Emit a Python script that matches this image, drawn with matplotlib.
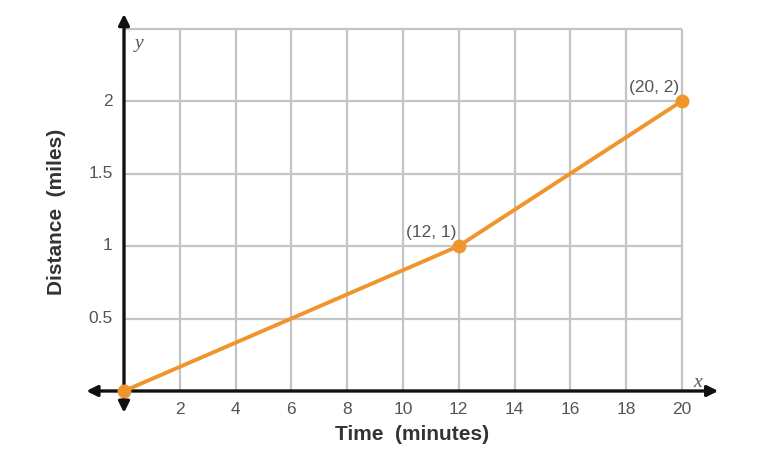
import matplotlib
matplotlib.use("Agg")
import matplotlib.pyplot as plt

# data
time_min = [0, 12, 20]
distance_mi = [0, 1, 2]
point_labels = ["", "(12, 1)", "(20, 2)"]
x_ticks = [2, 4, 6, 8, 10, 12, 14, 16, 18, 20]
y_ticks = [0.5, 1, 1.5, 2]
y_tick_labels = ["0.5", "1", "1.5", "2"]
x_grid = [2, 4, 6, 8, 10, 12, 14, 16, 18, 20]
y_grid = [0.5, 1, 1.5, 2, 2.5]

plt.rcParams['font.family'] = ['Liberation Sans', 'DejaVu Sans']

fig = plt.figure(figsize=(7.79, 4.63), dpi=100)
W, H = 779, 463
x0px, xscale = 124, 27.9
y0px, yscale = 391, 145
xlim = (-1.5, 21.5)
ylim = (-0.2, 2.65)
left = (x0px + xlim[0] * xscale) / W
width = (xlim[1] - xlim[0]) * xscale / W
bottom_px = y0px - ylim[0] * yscale
bottom = (H - bottom_px) / H
height = (ylim[1] - ylim[0]) * yscale / H
ax = fig.add_axes([left, bottom, width, height])
ax.set_xlim(*xlim)
ax.set_ylim(*ylim)
for s in ax.spines.values():
    s.set_visible(False)
ax.set_xticks([])
ax.set_yticks([])

grid_c = '#c4c4c4'
ax.vlines(x_grid, 0, 2.5, color=grid_c, lw=1.6, zorder=1)
ax.hlines(y_grid, 0, 20, color=grid_c, lw=1.6, zorder=1)

# axes with arrows
ax.annotate('', xy=(21.3, 0), xytext=(-1.35, 0),
            arrowprops=dict(arrowstyle='<|-|>', color='#111111', lw=2.4,
                            mutation_scale=16, shrinkA=0, shrinkB=0), zorder=3)
ax.annotate('', xy=(0, 2.6), xytext=(0, -0.15),
            arrowprops=dict(arrowstyle='<|-|>', color='#111111', lw=2.4,
                            mutation_scale=16, shrinkA=0, shrinkB=0), zorder=3)

orange = '#f0952c'
ax.plot(time_min, distance_mi, color=orange, lw=2.8, marker='o', ms=9,
        zorder=5, solid_capstyle='round')

lab_c = '#555555'
tfs = 12.5
for x in x_ticks:
    ax.text(x, -0.125, str(x), ha='center', va='center', fontsize=tfs, color=lab_c)
for y, t in zip(y_ticks, y_tick_labels):
    ax.text(-0.4, y, t, ha='right', va='center', fontsize=tfs, color=lab_c)

for x, y, t in zip(time_min, distance_mi, point_labels):
    if t:
        ax.text(x - 1.0, y + 0.04, t, ha='center', va='bottom', fontsize=tfs, color=lab_c)

ax.text(0.55, 2.4, 'y', fontsize=14, color=lab_c, ha='center', va='center',
        family='Liberation Serif', style='italic')
ax.text(20.55, 0.06, 'x', fontsize=14, color=lab_c, ha='center', va='center',
        family='Liberation Serif', style='italic')

fig.text(412 / W, 1 - 434 / H, 'Time  (minutes)', ha='center', va='center',
         fontsize=15, fontweight='bold', color='#333333')
fig.text(57 / W, 1 - 212 / H, 'Distance  (miles)', ha='center', va='center',
         fontsize=15, fontweight='bold', color='#333333', rotation=90)

fig.savefig('out.png', dpi=100)
